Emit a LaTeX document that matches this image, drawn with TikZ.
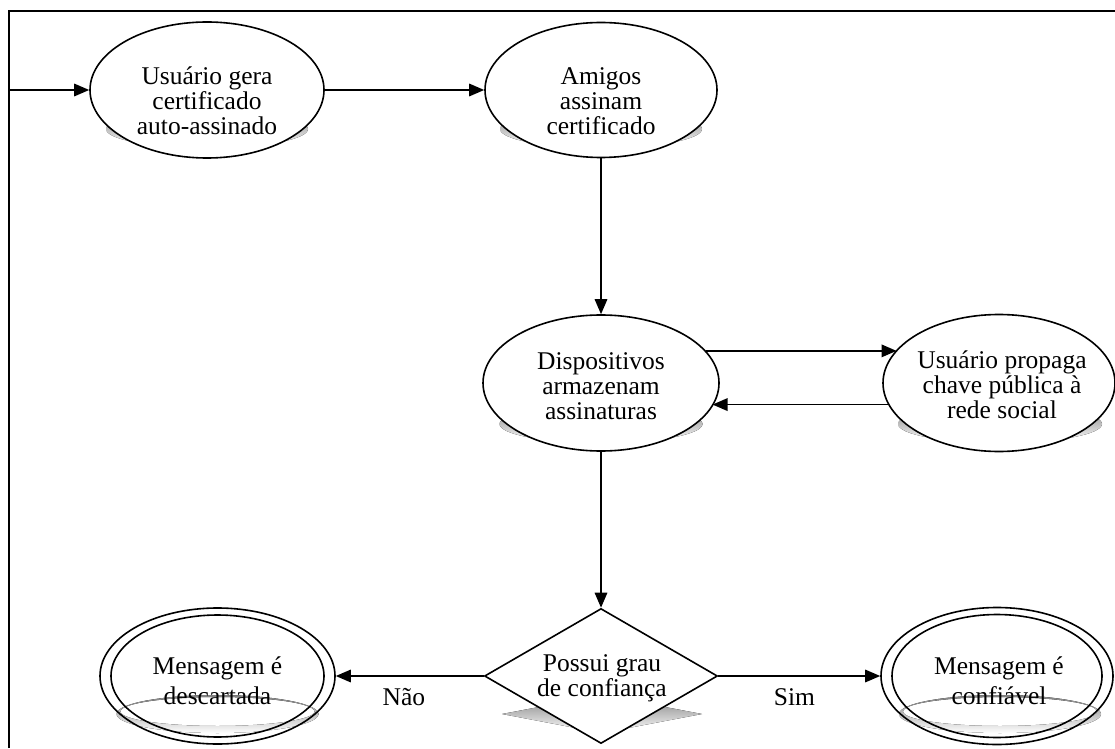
\documentclass[tikz,border=0pt]{standalone}
\usepackage{fontspec}
\setmainfont{Liberation Serif}
\usetikzlibrary{shapes.geometric,arrows.meta}
\definecolor{shade}{RGB}{182,182,182}
\tikzset{
  stateshape/.style={ellipse,draw,fill=white,line width=1.6pt,inner sep=0pt},
  ringshape/.style={ellipse,draw,line width=1.6pt,inner sep=0pt},
  choiceshape/.style={diamond,draw,fill=white,line width=1.6pt,inner sep=0pt},
  txt/.style={align=center,inner sep=0pt,font=\fontsize{25.5}{25}\selectfont},
  txtwide/.style={align=center,inner sep=0pt,font=\fontsize{25.5}{30}\selectfont},
  edgetxt/.style={inner sep=0pt,font=\fontsize{25.5}{25}\selectfont},
  conn/.style={line width=1.6pt,-{Triangle[length=15pt,width=12.5pt]}},
}
\begin{document}
\begin{tikzpicture}[x=1pt,y=1pt]
\useasboundingbox (0,0) rectangle (1115,748);

% outer frame
\draw[line width=2pt] (9,0) -- (9,736.5) -- (1115,736.5);

% perspective shadows
\fill[shade] (207,619) ellipse [x radius=101pt, y radius=19pt];
\fill[shade] (601,619) ellipse [x radius=101pt, y radius=19pt];
\fill[shade] (601,324) ellipse [x radius=101.5pt, y radius=19pt];
\fill[shade] (1000,324) ellipse [x radius=102pt, y radius=19pt];
\fill[shade] (502,34) -- (602,53) -- (702,34) -- (602,15) -- cycle;
\fill[shade,even odd rule] (217.5,34) ellipse [x radius=101pt, y radius=19pt]
  (217.5,36.5) ellipse [x radius=97pt, y radius=14.5pt];
\fill[shade,even odd rule] (1000,34) ellipse [x radius=101pt, y radius=19pt]
  (1000,36.5) ellipse [x radius=97pt, y radius=14.5pt];

% states
\node[stateshape,minimum width=234pt,minimum height=136pt] (n1) at (207,658) {};
\node[stateshape,minimum width=232pt,minimum height=135pt] (n2) at (601,658) {};
\node[stateshape,minimum width=236pt,minimum height=136pt] (n3) at (601,365) {};
\node[stateshape,minimum width=232pt,minimum height=137pt] (n4) at (999,365) {};
\node[choiceshape,minimum width=233pt,minimum height=135pt] (n5) at (601,72) {};
\node[ringshape,minimum width=235pt,minimum height=136pt] (n6) at (217.5,72) {};
\node[ringshape,minimum width=213pt,minimum height=122pt] (n6i) at (217.5,72) {};
\node[ringshape,minimum width=232pt,minimum height=137pt] (n7) at (997,72) {};
\node[ringshape,minimum width=210pt,minimum height=123pt] (n7i) at (997,72) {};

% texts
\node[txt] (t1) at (207,647) {Usuário gera\\certificado\\auto-assinado};
\node[txt] (t2) at (601,647) {Amigos\\assinam\\certificado};
\node[txt] (t3) at (601,362) {Dispositivos\\armazenam\\assinaturas};
\node[txt] (t4) at (1002,363) {Usuário propaga\\chave pública à\\rede social};
\node[txt] (t5) at (602,69.5) {Possui grau\\de confiança};
\node[txtwide] (t6) at (217.5,67) {Mensagem é\\descartada};
\node[txtwide] (t7) at (999,67) {Mensagem é\\confiável};

% connectors
\coordinate (start) at (9,658);
\draw[conn] (start) -- (n1);
\draw[conn] (n1) -- (n2);
\draw[conn] (n2) -- (n3);
\draw[conn] (n3.17.1) -- (n3.17.1 -| n4.162.7);
\draw[conn] (n4.191.9) -- (n4.191.9 -| n3.348.3);
\draw[conn] (n3) -- (n5);
\draw[conn] (n5) -- (n6) node[edgetxt,pos=0.54,yshift=-21pt] (lno) {Não};
\draw[conn] (n5) -- (n7) node[edgetxt,pos=0.47,yshift=-21pt] (lyes) {Sim};
\end{tikzpicture}
\end{document}
